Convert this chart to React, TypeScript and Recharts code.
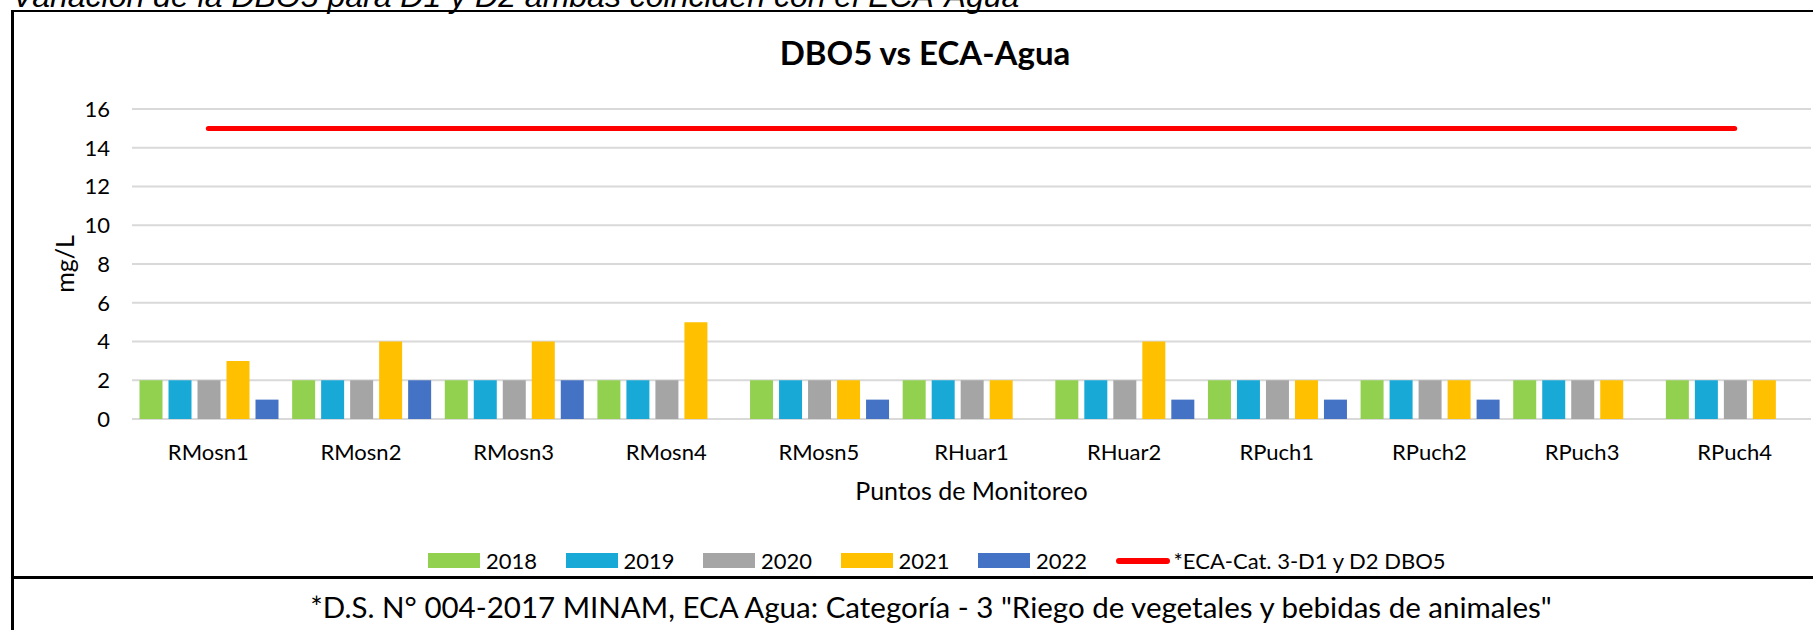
import React from "react";
import {
  ComposedChart,
  Bar,
  Line,
  XAxis,
  YAxis,
  CartesianGrid,
  Legend,
} from "recharts";

const puntos = [
  "RMosn1",
  "RMosn2",
  "RMosn3",
  "RMosn4",
  "RMosn5",
  "RHuar1",
  "RHuar2",
  "RPuch1",
  "RPuch2",
  "RPuch3",
  "RPuch4",
];

const v2018 = [2, 2, 2, 2, 2, 2, 2, 2, 2, 2, 2];
const v2019 = [2, 2, 2, 2, 2, 2, 2, 2, 2, 2, 2];
const v2020 = [2, 2, 2, 2, 2, 2, 2, 2, 2, 2, 2];
const v2021 = [3, 4, 4, 5, 2, 2, 4, 2, 2, 2, 2];
const v2022 = [1, 2, 2, null, 1, null, 1, 1, 1, null, null];
const eca = [15, 15, 15, 15, 15, 15, 15, 15, 15, 15, 15];

const yTicks = [0, 2, 4, 6, 8, 10, 12, 14, 16];

const SERIES = [
  { key: "y2018", name: "2018", color: "#92D050", values: v2018 },
  { key: "y2019", name: "2019", color: "#19A9D7", values: v2019 },
  { key: "y2020", name: "2020", color: "#A5A5A5", values: v2020 },
  { key: "y2021", name: "2021", color: "#FFC000", values: v2021 },
  { key: "y2022", name: "2022", color: "#4472C4", values: v2022 },
];

const ECA_NAME = "*ECA-Cat. 3-D1 y D2 DBO5";
const FONT = "Lato, 'Noto Sans', sans-serif";

const rows = puntos.map((p, i) => {
  const row: Record<string, string | number | null> = { punto: p, eca: eca[i] };
  SERIES.forEach((s) => {
    row[s.key] = s.values[i];
  });
  return row;
});

function LegendBox(props: any) {
  // bars first, the ECA line last (as in the Excel legend)
  const payload = [...(props.payload || [])].sort(
    (a: any, b: any) => (a.type === "line" ? 1 : 0) - (b.type === "line" ? 1 : 0)
  );
  return (
    <div
      style={{
        display: "flex",
        alignItems: "center",
        fontFamily: FONT,
        fontSize: 22,
        color: "#000",
      }}
    >
      {payload.map((item: any) => {
        const isLine = item.type === "line";
        return (
          <div
            key={item.value}
            style={{
              display: "flex",
              alignItems: "center",
              width: isLine ? "auto" : 137.5,
            }}
          >
            {isLine ? (
              <div
                style={{
                  width: 54,
                  height: 6,
                  borderRadius: 3,
                  background: item.color,
                  marginRight: 4,
                }}
              />
            ) : (
              <div
                style={{
                  width: 52,
                  height: 15,
                  background: item.color,
                  marginRight: 6,
                }}
              />
            )}
            <span>{item.value}</span>
          </div>
        );
      })}
    </div>
  );
}

export default function App() {
  return (
    <div
      style={{
        position: "absolute",
        left: 0,
        top: 0,
        width: 1813,
        height: 630,
        overflow: "hidden",
        background: "#fff",
      }}
    >
      <div
        style={{
          position: "absolute",
          left: 12,
          top: -20,
          fontFamily: "'Liberation Sans', Arial, sans-serif",
          fontStyle: "italic",
          fontSize: 32,
          lineHeight: 1,
          whiteSpace: "nowrap",
          color: "#000",
        }}
      >
        Variación de la DBO5 para D1 y D2 ambas coinciden con el ECA-Agua
      </div>
      <div
        style={{
          position: "absolute",
          left: 11,
          top: 10,
          width: 1900,
          height: 700,
          borderLeft: "3px solid #000",
          borderTop: "2px solid #000",
        }}
      />
      <div
        style={{
          position: "absolute",
          left: 12,
          top: 576,
          width: 1900,
          height: 3,
          background: "#000",
        }}
      />
      <div
        style={{
          position: "absolute",
          left: 0,
          top: 0,
        }}
      >
        <ComposedChart
          width={1813}
          height={630}
          data={rows}
          margin={{ top: 109, right: 2, left: 72, bottom: 151 }}
          barGap={6}
          barCategoryGap={7.5}
        >
          <CartesianGrid
            vertical={false}
            stroke="#D9D9D9"
            strokeWidth={2}
          />
          <XAxis
            dataKey="punto"
            height={60}
            axisLine={false}
            tickLine={false}
            tickSize={0}
            tickMargin={25}
            tick={{ fill: "#000", fontSize: 22, fontFamily: FONT }}
            interval={0}
            label={{
              value: "Puntos de Monitoreo",
              position: "bottom",
              offset: 3,
              fill: "#000",
              fontSize: 25,
              fontFamily: FONT,
            }}
          />
          <YAxis
            width={60}
            domain={[0, 16]}
            ticks={yTicks}
            axisLine={false}
            tickLine={false}
            tickSize={0}
            tickMargin={22}
            tick={{ fill: "#000", fontSize: 22, fontFamily: FONT }}
            label={{
              value: "mg/L",
              angle: -90,
              position: "insideLeft",
              offset: -7,
              fill: "#000",
              fontSize: 25,
              fontFamily: FONT,
              style: { textAnchor: "middle" },
            }}
          />
          {SERIES.map((s) => (
            <Bar
              key={s.key}
              dataKey={s.key}
              name={s.name}
              fill={s.color}
              legendType="rect"
              isAnimationActive={false}
            />
          ))}
          <Line
            dataKey="eca"
            name={ECA_NAME}
            type="linear"
            stroke="#FF0000"
            strokeWidth={5}
            strokeLinecap="round"
            dot={false}
            activeDot={false}
            legendType="line"
            isAnimationActive={false}
          />
          <Legend
            layout="horizontal"
            verticalAlign="middle"
            align="center"
            content={<LegendBox />}
            wrapperStyle={{ top: 547, left: 428, width: 1200, height: 24 }}
          />
        </ComposedChart>
      </div>
      <div
        style={{
          position: "absolute",
          left: 0,
          width: 1850,
          top: 36,
          textAlign: "center",
          fontFamily: FONT,
          fontWeight: 700,
          fontSize: 33,
          lineHeight: 1,
          color: "#000",
        }}
      >
        DBO5 vs ECA-Agua
      </div>
      <div
        style={{
          position: "absolute",
          left: 0,
          width: 1862,
          top: 592,
          textAlign: "center",
          fontFamily: FONT,
          fontSize: 29.5,
          lineHeight: 1,
          whiteSpace: "nowrap",
          color: "#000",
        }}
      >
        *D.S. N° 004-2017 MINAM, ECA Agua: Categoría - 3 "Riego de vegetales y bebidas de animales"
      </div>
    </div>
  );
}
